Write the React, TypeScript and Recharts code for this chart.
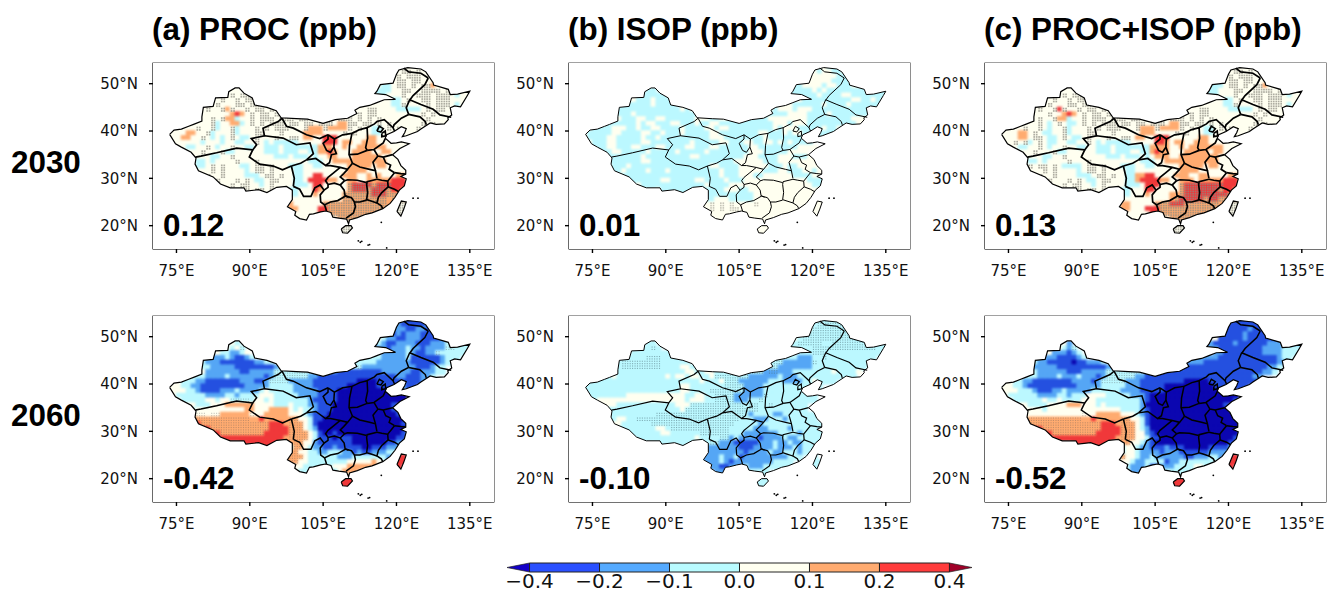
import { ScatterChart, Scatter, XAxis, YAxis, ReferenceArea, BarChart, Bar } from "recharts"

// grid cells: col 0 = 73.5E, row 0 = 53.5N, 1 degree. "_" = 10 empty cols, "." = empty
// a <-0.4  b -0.4..-0.2  c -0.2..-0.1  d -0.1..0  e 0..0.1  f 0.1..0.2  g 0.2..0.4  h >0.4, upper case = stippled
const PROC_2030 = [
  "_ _ _ _ ........ee eeee",
  "_ _ _ _ .......eEE eEee",
  "_ _ _ _ ......eEeE EEeee",
  "_ _ _ _ ......eEEe EEeeef",
  "_ _ _ _ ...eddeEEe EeEEfe",
  "_ ...ee..... _ _ ..ddddeeEE eeEEEEeEee eee",
  "_ ..eEeEEe.. _ _ ..dddeeeEe eEEEeEEEed ee",
  "_ eEeeEeEEe. _ _ ....eeddeE eeEEeEEEee e",
  "........Ee EeeeEEeEE. _ .........e eeeeeeddEe eeeEeEEEed e",
  ".......eEe eEfEeeEeEE eEe....... ........ee eEEeeeeddd ddeEeEEeee",
  ".......eee eeefgfeEeE EeEe...... ......eEeE eEEeeeeeee eeEeEeeee",
  ".......eeE eEffdeeEeE EEeEEEeEEe EeEEeEEEeE eEeEeeeeee eeeEeeeee",
  "....eeeeeE deeffdeEeE eEEEeEEeEE eEEEeffEEe EEeEeEeeee eeEeEeee",
  ".eeeeeEeeE deeEdeeeEe EeEEEeeeEf ffEffffEeE eeddeEeEee eEee",
  "eeeeffeeEd eeeEdeeeEE eeeEeeeeff ffeeeeEeEe eeddeeEeee eee",
  "eeeffeeEed edeEeddeEe eeEeeEEeff eegggeeeee effeeeeeee",
  ".eeeeeedee edeeddeeEe dedddddeee eegggeffee fffeeeeee",
  "..eeddeeEe deeEeeddee dddedddddd dfffeefeef fffffeeeee",
  "....eeeEee eEddeeeeee dddedddeed dffgfeeeff ffeeffee",
  ".....eeeed deeEeeeeee eedddeddde deeffeeeff ffffeeee",
  ".....edded eeeeEeeeEe eeeeeeeeed ddeeffffff fffffeee",
  ".....eddeE eEeeeddeEE eEeeedddee ddeeeeefff ffeffeeee",
  ".....eeeeE eEeeeedeEE eEeeeeddee eeeeeeefff feeeeeeeee",
  ".......eEe eEeeeeddde EEeEeeddee ggeeeefffe efefeeeffe",
  "........ee EeeeEeEedd eEEeeeddeg gggffeeffe efffffggge",
  "_ .eeEeEEeed eEeeeeddde ggeeeeeFGG GGFGGGgggg",
  "_ .....eEeEE eEeEeddeee gfeeeeeFGG GFGGGFggfe",
  "_ .........e eEEeeddeee feeeeeFFFF FFGGGFFFf",
  "_ _ ....eeeeee eeeeeeFFFF FFFFFfFFf",
  "_ _ ....efeeee eeFFFFFFFF FFFFFf.EE",
  "_ _ .....ffeee eggFFFFFFF FFFFf..EE",
  "_ _ ......eeee eggFFFFFFF FFFe...E",
  "_ _ .......eee eeeeeFFFF",
  "_ _ _ ......ee",
  "_ _ _ .....EEE",
  "_ _ _ .....EEE",
]

const ISOP_2030 = [
  "_ _ _ _ ........ee dddd",
  "_ _ _ _ .......ede edde",
  "_ _ _ _ ......eeee eeddd",
  "_ _ _ _ ......eeee edddde",
  "_ _ _ _ ...ddeeeed eedddee",
  "_ ...dd..... _ _ ..dddddede ddddddddee dde",
  "_ ..ddddd... _ _ ..dddddded dddeeddddd ddd",
  "_ edddeddddd _ _ ....eddddd dddddeedde d",
  "........dd ddddedddd. _ .........e eeedddddde ddddeddddd d",
  ".......ddd dddddddddd ede....... ........ed eeedeeeddd dddddddddd",
  ".......ddd eddddddddd dddd...... ......eedd ddeeeedddd edddddddd",
  ".......edd deeddeeddd dddeeeddee ddddddddee eeeeeedddd dddddeee",
  "....eddddd dedeedddee dddeddeedd ddddddddde eedeeedddd dddddde",
  ".eddddeeed deddeedddd eddddeedee ddddddddde deeeddddde dde",
  "edddddeedd ddeeddeddd edddddeedd ddddddeedd dedeeddddd dd",
  "eddddeeddd ddeddedddd ddddddeeed dddddddedd ddddddddd",
  ".edddeeddd ddeedddddd ddedddddee dddeeddeed ededddd",
  "..dddeeddd eedddeeddd deedddeedd ddddeedddd ddddeeee",
  "....ddeedd dddeddddde dddddedddd ddddeeeddd ddeeee",
  ".....ddddd ddeddddddd ddeedddddd dddeeedddd eeedddee",
  ".....ddddd ddeedddddd dddddddddd deeeeeeddd eeeeeeee",
  ".....eddde dddddddddd ddddddeedd ddeeeeeedd deddeeeee",
  ".....edded dddedddedd dddddddded ddeeeeeddd eedddeedee",
  ".......edd dddddddddd ddddddddedd deeeddeeee eeddddeeee",
  "........ed ddddddeedd dddeedddde dddeeeeeee eeeeeedddd",
  "_ .edddddddd dddddedddd eeeeeeeeee eeeeeeeddd",
  "_ .....edddd dddddddddee eddeeeeeee eeeeeeeeee",
  "_ .........d dddddddddd dddddeeeee eeeeeeeee",
  "_ _ ....dddeee dddddeeeee eeeeeeeee",
  "_ _ ....eeEeEe EeeeeEeeee eeeeee.ee",
  "_ _ .....eEeEe EEeeeeeeee eeee...ee",
  "_ _ ......eeee eeeeeeeeee eee....e",
  "_ _ .......eee eeeeeeeee",
  "_ _ _ ......ee",
  "_ _ _ .....eee",
  "_ _ _ .....eee",
]

const BOTH_2030 = [
  "_ _ _ _ ........ee eeee",
  "_ _ _ _ .......eEE eEee",
  "_ _ _ _ ......eEeE EEeee",
  "_ _ _ _ ......eEEe EEeeef",
  "_ _ _ _ ...dddeEEe EeEEfe",
  "_ ...ee..... _ _ ..dddeeeEE eeEEEEeEee eee",
  "_ ..eEeEEe.. _ _ ..dddeeeEe eEEEeEEEed ee",
  "_ eEeeEeEEe. _ _ ....eeddeE eeEEeEEEee e",
  "........Ee EeeeEEeEE. _ .........e eeeeeeddEe eeeEeEEEed e",
  ".......eEe eEgEeeEeEE eEe....... ........ee eEEeeeeddd ddeEeEEeee",
  ".......eee EeefgfeEeE EeEe...... ......eEeE eEEeeeeeee eeEeEeeee",
  ".......eEe eEffdeeEeE EEeEEEeEEe EeEEeEEEeE eEeEeeeeee eeeEeeeee",
  "....eeeeEe deEeddeEeE eEEEeEEeEE eEEEeffEEe EEeEeEeeee eeEeEeee",
  ".eeeeEeeEe deeEdeeeEe EeEEEeeeEf ffEffffEeE eeddeEeEee eEee",
  "eeeeffeEed deeEdeeeEE eeeEeeeeef ffeeeeEeEe eeddeeEeee eee",
  "eeeeffeEEe ddeEeddeEe eeEeeEEeff eegggeeeee effeeeeeee",
  ".eeEeEdeEe ddeeddeeEe dedddddeee eeggfeffee fffeeeeee",
  "..eeddeeEe deeEeeddee dddedddddd dffffeefef ffffffeeee",
  "....eeeEee eEddeeeeee dddedddeed dfgffeeeff fffeffee",
  ".....eeeed deeEeeeeee eedddeddde defffeefff fffffeee",
  ".....edded eeeeEeeeEe eeeeeeeeed ddeeffffff fffffeee",
  ".....eEeEE eEeddddeEE eEeeedddee ddeeeeefff ffeffeee",
  ".....eeeeE eEeeeedeEE eEeeeeddee eeeeeeefff feeeeeeeee",
  ".......eEe eEeeeeddde EEeEeeddff ggeeeefffe effeeeefff",
  "........ee EeeeEeEedd eEEeeeddfg gggffeefff efffffgggf",
  "_ .eeEeEEeed eEeeeeddde gggeeeeFGG GGGGGGggge",
  "_ .....eEeEE eEeEeddeee ggeeeeeFGG GGGGGFggfe",
  "_ .........e eEEeeddeee feeeeffFGG GGGGGGGFf",
  "_ _ ....eeeeee eeeeefFGGG GGFGGFFFf",
  "_ _ ....effeee eeFFFGGGFF FFFFFf.EE",
  "_ _ .....ffeee gggFFFFFFF FFFFf..EE",
  "_ _ ......eeee eggFFFFFFF FFFe...E",
  "_ _ .......eee eeeeeFFFF",
  "_ _ _ ......ee",
  "_ _ _ .....EEE",
  "_ _ _ .....EEE",
]

const PROC_2060 = [
  "_ _ _ _ ........cb bbbb",
  "_ _ _ _ .......cbb bbbc",
  "_ _ _ _ ......cccb bccbb",
  "_ _ _ _ ......bcbc ccbbbb",
  "_ _ _ _ ...edccbbc ccbbbbcd",
  "_ ...ed..... _ _ ..cdcbbccc cbbbcccddD Ddd",
  "_ ..edeD.... _ _ ..cccbcccd ccbccccDDd dd",
  "_ eddccde... _ _ ....cccccd cbbccDdddd d",
  "........dc ccdcbbcd.. _ .........d ddddcccccd bbbbbbcddd",
  ".......dcc cbbbbbbbcc dd........ ........dd dddccccccc bbbbbbcdd",
  ".......ddc ccccbbbbbb bbcd...... ......dddD cccccccccc cbbbcdd",
  ".......ecc cccccbbccc ccDDDDDDDD cccccbbbbb bbbbcccccc bbcccdd",
  "....edddcc ccdccccccc bcDDDDDDDc cbbbbbbbbb bbbbbbbccb bbccd",
  ".eedddccbb bbbbbcccbb cDDDDccccc bbbbbbbbba aaabbbbbbb bbc",
  "eeeddccbbb bbbbbbcccc cdddddcccc bbbbbbbaaa aaabbbbbcb b",
  "eeeeddcbbb bcccdccccd edddddcccc cbbbbaaaaa aaaaaa",
  ".eddddddcc ccddcdddde eedddddccc cbbbbaaaaa aaaaaaaaa",
  "..edddddee deeDDDDdee dedddddddc bbbbbaaaaa aaaaaaaaa",
  "....eeddde eeffffffee eedddedddc cbbbaaaaaa aaaaaab",
  ".....deeee eeeeeeffee effffededd cbbbaaaaaa aaaaaabb",
  ".....eEEeE EffffffEee fffffeeedc bbbaaaaaaa aaaaaaab",
  ".....fFFFF FFFFFFFffg fffffFFeed bbaaaaaaaa aaaaaaaaab",
  ".....ggFFF FFFFFFFFFF FgggfFFFed baaaaaaaaa aaaaaaaabb",
  ".......ggF FFFFFFFFFF FggggFFFed caaaaaaaaa aaaaaaaaab",
  "........gg gFFFFFFFFF gggggFFFFe dbaabaaaaa aaaaaaaabc",
  "_ .ggggggggg ggggfFFFFe dbbbabbbaa aaaaaaabbc",
  "_ .....ggggg gggfffFFee cbbbbbbbaa aaaaabbcc",
  "_ .........f ggffddFFed ccbbcbbbbb aabbbcccd",
  "_ _ ....FFFeed dccdddccbc bbcccddd",
  "_ _ ....FFFFed dddddcccdd dddddc.gg",
  "_ _ .....FFeed dddddddeee eefe...gg",
  "_ _ ......eedd ddddeeefff fff....g",
  "_ _ .......ddd dddddefff",
  "_ _ _ ......ee",
  "_ _ _ .....ggg",
  "_ _ _ .....ggg",
]

const ISOP_2060 = [
  "_ _ _ _ ........DD DDDD",
  "_ _ _ _ .......dDD DDDD",
  "_ _ _ _ ......eDDD DDDDd",
  "_ _ _ _ ......DDDD DDDDDd",
  "_ _ _ _ ...edDDDDD DDDDDDDd",
  "_ ...dd..... _ _ ..ddDDDDDd dDDDDDDDDD DDd",
  "_ ..ddDd.... _ _ ..dddddDDD DDDDDDDDDD dd",
  "_ dddddddd.. _ _ ....dddDDD dddddddddd d",
  "........dd dddDDDdddd _ .........d ddddcccddD dddddddddd",
  ".......dDD DDDDDDdddd dd........ ........dD DccccccDdd ddddddddd",
  ".......dDD DDDDDDdddd eedd...... ......dDDD cccccccddd dddddddd",
  ".......ddd dddddddddd deeddeeddd DDDDDDDcCC cccddddddd dedddde",
  "....ddeddd dddddddede edeeddeDDD DDDDcccccc dcccdddddd dddddd",
  ".ddddddddd dddddddddd ddddedddeD DDccccccdd dccccddedd dd",
  "dddddddddd dddddddddd eedddddddD DDDccccddd ddddddddd",
  "dddddddddd dddddddddd eeddddDDDD DDDccccddd dddddd",
  ".dddddddde eeeeeeeeee eddeeddDDD DccccccDdd dddddddd",
  "..deeeeeee eeeeeeeeee edeeeddDDD DcccddDddd dddddddd",
  "....eeeddd ddddddddde eeDDDDDDDD DDDdDDddDd dddddd",
  ".....ddddd dddddddddd eDDDDDDDDD DDDDDDdddd dddddd",
  ".....ddddd dddddDDDDD DDDDDDDDDD DDDdcddddc cddddddd",
  ".....ddeed dDDDDDDDDD DDDDDDDDDD DDdddcccdd dcdddddd",
  ".....deedd ddddDDDDDD DDDDDDDDDD Ddddddcddd dddddddddd",
  ".......ddd dddddeedDD DDDDDDDDDD dddddcccdd ddcddddddd",
  "........dd ddddddeedd ddddDDDDDD dddccccccc ddddcddddd",
  "_ .ddddddddd dddeddddDD cdccccbccc cdccdddddd",
  "_ .....ddddd ddddddDDcc cbbbbbcccd ccdccdddd",
  "_ .........d dddddccccc ccbbbccccd cccdcddd",
  "_ _ ....cccccc cccbccccdc cdddcddd",
  "_ _ ....ccccdc cdbccccccc ccddd.dd",
  "_ _ .....cccdc bccccccccd ddd....dd",
  "_ _ ......ccbb cccdcccddd ddd....d",
  "_ _ .......ccb dddddddd",
  "_ _ _ ......dd",
  "_ _ _ .....ddd",
  "_ _ _ .....ddd",
]

const BOTH_2060 = [
  "_ _ _ _ ........bb bbbb",
  "_ _ _ _ .......bbb bbbb",
  "_ _ _ _ ......bbbb bcbbb",
  "_ _ _ _ ......bbbb cbbbbb",
  "_ _ _ _ ...eebbbbb cbbbbbbc",
  "_ ...ec..... _ _ ..ccbbbbcb bbbbbcccdc ccd",
  "_ ..edcD.... _ _ ..cccbbbbb bbbbccccdd dd",
  "_ ecccbcd... _ _ ....ccbbbb bbbbccccdd d",
  "........dc ccbbbbcd.. _ .........c cccccbbbbb bbbbbbbcdd",
  ".......dcc bbbbbabbcc cd........ ........cc ccbbbbbbbb bbbbbbbcc",
  ".......ccc ccbbbbbbbb bbcc...... ......ccbb bbbbbbbbbb bbbbbccd",
  ".......dcc ccccbbbccc ccDDDDDDDD bbbbbbbbbb bbbbbbbbbb bbbbccd",
  "....edddcc ccdcccdccc bcDDDDDDcc bbbbbbbbbb bbbbbbbbbb bbcc",
  ".eeddccbbb bbbbbccccb cDDDDDcccb bbbbbbbbaa aaabbbbbbb bbb",
  "eeeddcbbbb bbbbbbcccc cdddddcccb bbbbaaaaaa aaaabbbbbb b",
  "eeeedddcbb bccdcccccd dddddccccb bbbbaaaaaa aaaaaa",
  ".eddddddcc ccddcdddee eedddddccc baaaaaaaaa aaaaaaaaa",
  "..edddddde ddeddddeee dddddddddc baaaaaaaaa aaaaaaaab",
  "....eedddd eeeefffeee dedddddddc aaaaaaaaaa aaaaaab",
  ".....eeeed eeeeeeeeee eeeeeddddc baaaaaaaaa aaaaaaaa",
  ".....eeeee eeeeeeeEee fffffeeedc baaaaaaaaa aaaaaaaa",
  ".....eFFFF FFFFFFFffg fffffFFeed baaaaaaaaa aaaaaaaaaa",
  ".....eFFFF FFFFFFFFFF FgggfFFFed baaaaaaaaa aaaaaaaaaa",
  ".......ggF FFFFFFFFFF FggggFFFed caaaaaaaaa aaaaaaaaaa",
  "........gg gFFFFFFFFF gggggFFFee cbaaaaaaaa aaaaaaaaab",
  "_ .ggggggggg ggggfFFFee dbbaaaaaaa aaaaaaaabc",
  "_ .....ggggg gggfffFeed cbaaaaaaaa aaaaaaabb",
  "_ .........f ggffddeedc cbbbcbbbaa aaabbbbcc",
  "_ _ ....ddeedc cccbcccbbb bbbccccc",
  "_ _ ....dFeedc cdccccccbb cccddc.gg",
  "_ _ .....eedcc ddddbccddd dddd...gg",
  "_ _ ......dccc dbbcccdddd eed....g",
  "_ _ .......ccc cbcdddddd",
  "_ _ _ ......dd",
  "_ _ _ .....ggg",
  "_ _ _ .....ggg",
]

// lon, lat
const OUTLINE = [
  [73.6,39.3],[74.5,40.2],[76,40.4],[77.5,41],[78.5,41.4],[80.2,42.1],[80.2,43],[80.5,45],[82.5,45.2],[83,47],[85.5,47.1],
  [85.7,48.3],[87,49.1],[87.8,49.1],[88.8,48],[90.5,47],[91,45.5],[93.5,45],[95.4,44.3],[96.4,42.8],[99.5,42.6],[101.8,42.5],
  [105,41.6],[107.5,42.4],[110,42.7],[111.9,43.7],[111.5,44.4],[112.5,45],[114.5,45.4],[116,46],[117.5,46.6],[119.8,46.7],
  [117.8,47.7],[115.6,47.9],[116,48.4],[116.7,49.8],[119.3,50.1],[120,52],[120.5,52.9],[122.3,53.4],[125,53.1],[126,52.5],
  [127.5,50.2],[127.6,49.7],[130.6,48.8],[131,47.7],[132.5,47.8],[135,48.4],[134.5,47.5],[133.1,45.1],[131.9,45.3],[131,44.9],
  [131.3,43.4],[130.5,42.8],[130.6,42.4],[129.8,41.5],[128.1,41.4],[126.9,41.7],[125,40.4],[124.3,39.9],[122,39],[121.2,38.8],
  [121.7,39.7],[122,40.5],[121,40.9],[119.5,39.9],[118,39.2],[117.7,38.5],[118.9,37.4],[120,37.5],[121,37.7],[122.6,37.3],
  [120.7,36.3],[119.2,35],[120.3,34],[120.9,32.7],[121.9,31.7],[121.9,30.9],[120.9,30.4],[122,29.9],[121.6,28.4],[120.6,27.5],
  [119.7,26],[118.7,24.7],[117.2,23.6],[115,22.7],[113.7,22.4],[112,21.7],[110.4,21.2],[110.2,20.4],[109.8,21.4],[108.2,21.6],
  [107,21.8],[106.6,22.8],[105.5,23.1],[104.5,22.9],[103,22.5],[102.2,22.4],[101.6,21.2],[100.2,21.5],[99.2,22.2],[99.4,23],
  [97.7,24],[98.7,25.5],[98.7,27.5],[97.5,28.3],[95.5,28.1],[93.5,27],[91.8,27.6],[89.2,27.3],[88.8,28],[86,28],[84,28.8],
  [82.5,30.3],[79.5,31.6],[78.8,33],[79,34.3],[78,35.5],[76,36.6],[74.8,37.3],[73.6,39.3],
]
const HAINAN = [[108.7,19.3],[109.6,20],[110.7,20],[111,19.5],[110,18.4],[109,18.5],[108.7,19.3]]
const TAIWAN = [[120.1,23],[121,25.2],[122,25],[121.5,23.5],[120.9,22],[120.1,23]]

const PROVINCE_LINES = [
  [[78.9,34.5],[80,34.7],[83.2,35.4],[87.3,36.4],[90.6,36],[91.4,37.1],[90.3,38.4],[93,39],[92.7,40.6],[95.8,42],[96.6,42.7]],
  [[90.6,36],[89.9,34.5],[92,33],[94.8,32.6],[96.7,31.8],[98.5,32.6]],
  [[98.5,32.6],[99.1,30],[98.9,28.3]],
  [[93,39],[96.8,38.5],[99.5,37.1],[102.3,37.5],[103,35.2],[101.6,33.9]],
  [[98.5,32.6],[100.4,33.2],[101.6,33.9]],
  [[96.6,42.7],[97.5,41],[98.9,40.6],[101.6,39.2],[104.3,38.4],[106,39.2]],
  [[106,39.2],[107.3,38.3],[107.2,36.6],[106.5,35.5],[105.7,35.9],[105,37.4],[106,38.3],[106,39.2]],
  [[101.6,33.9],[103.5,34.2],[105.5,32.7],[106.3,33.3],[106.7,35],[107.7,35.2],[107.2,36.6]],
  [[107.3,38.3],[109,39.2],[110.9,39.5]],
  [[110.9,39.5],[110.4,37],[110.3,35],[111,33.2]],
  [[111,33.2],[110,31.9],[108.5,32.3],[106.5,32.7],[105.5,32.7]],
  [[110.9,39.5],[112.5,40.3],[114,40.7],[114.1,38.5],[113.7,36.5],[114,35.9]],
  [[110.3,35],[112,35.1],[114,35.9]],
  [[114,40.7],[115.5,41.5],[116,42],[117.5,42.4],[119.3,40.7],[119.6,40]],
  [[116,40],[116.5,41],[117.3,40.5],[116.8,39.8],[116,40]],
  [[117,39.5],[117.7,40],[117.8,39],[117,38.8],[117,39.5]],
  [[114,35.9],[115.4,36.1],[117.3,37.5],[117.7,38.4]],
  [[115.4,36.1],[116.2,34.7],[117.3,34.5],[119.2,35]],
  [[111,33.2],[112.5,32.4],[114.5,31.9],[115.7,31.6],[116,30]],
  [[116.2,34.7],[115.2,33.4],[115.7,31.6]],
  [[117.3,34.5],[117.8,33.3],[118.8,32.8],[118.5,31.9],[119.6,31.2]],
  [[119.6,31.2],[120.9,31],[121.9,30.9]],
  [[119.6,31.2],[118.9,30.3],[118.2,29.4],[117,29.6],[116,29.8]],
  [[118.2,29.4],[118.3,28.2],[119.6,27.7],[120.4,27.2]],
  [[118.3,28.2],[117,27],[116.3,26],[116,24.8],[116.9,24.2],[117.2,23.6]],
  [[116,29.8],[114,29.3],[113.9,28.7],[114.1,27],[113.9,25.5],[114.8,25.2],[116,24.8]],
  [[113.9,29.1],[112,29.6],[110,29.7],[109.4,29.5]],
  [[110,31.9],[109.2,31],[108.5,30.3],[109.4,29.5]],
  [[108.5,32.3],[107.2,31.2],[106,30.2],[105.5,29.5],[106,28.7]],
  [[106,28.7],[107.3,29],[108.5,28.6],[109.4,29.5]],
  [[108.5,28.6],[109.3,27.5],[109.5,26.3],[110.2,26]],
  [[109.5,26.3],[110.8,25.9],[111.4,25],[112.5,25],[113.9,25.4]],
  [[111.4,25],[111.6,24],[111.2,22.7],[109.7,21.6]],
  [[109.5,26.2],[108,25.3],[106.5,25],[105.3,24.4],[105.7,23.1]],
  [[105.3,24.4],[104.5,25],[104.4,26.5],[105.2,27.5],[106,28.1],[106,28.7]],
  [[98.9,28.3],[100.2,27.7],[101,26.2],[102.5,26.2],[103.3,28],[104.4,28.6],[105.2,27.5]],
  [[121.5,53.3],[122.5,52.5],[125,52.2],[126.5,51.2]],
  [[126.5,51.2],[125.8,49.8],[123.4,47.5],[122.7,46.5]],
  [[122.7,46.6],[125,45.6],[127.5,44.6],[128.9,43.4],[131.2,42.9]],
  [[122.7,46.6],[122,44.9],[122.5,43.5]],
  [[122.5,43.5],[124.8,43],[125.9,42],[126.1,41.3]],
  [[122.5,43.5],[121,42.7],[119.5,41.3],[119.3,40.7]],
]
const ISLANDS = [[112.2,16.8],[112.6,16.5],[112.9,16.7],[114.2,15.9],[114.5,16],[116.9,20.7],[123.4,25.8],[124.4,25.8],[118,15.3]]

const LON_TICKS = [75, 90, 105, 120, 135]
const LAT_TICKS = [20, 30, 40, 50]
const TITLES = ["(a) PROC (ppb)", "(b) ISOP (ppb)", "(c) PROC+ISOP (ppb)"]
const YEARS = ["2030", "2060"]
const MEANS = ["0.12", "0.01", "0.13", "-0.42", "-0.10", "-0.52"]
const FIELDS = [PROC_2030, ISOP_2030, BOTH_2030, PROC_2060, ISOP_2060, BOTH_2060]
const BAR_LABELS = ["\u22120.4", "\u22120.2", "\u22120.1", "0.0", "0.1", "0.2", "0.4"]
const BAR_TICKS = [0, 1, 2, 3, 4, 5, 6]
const BAR_ROW = [{ low: -0.322, s0: 1, s1: 1, s2: 1, s3: 1, s4: 1, s5: 1, high: 0.322 }]

const LEVELS: Record<string, string> = {
  a: "#0b06b0", b: "#2450e0", c: "#55a6f5", d: "#bbf8ff", e: "#fffff0", f: "#ffab70", g: "#f0383a", h: "#a00028",
}
const BAR_COLORS = ["#2a50ff", "#55aaff", "#b9fbff", "#fffff0", "#ffab70", "#ff3c3c"]

const PANEL_X = [153, 569, 985]
const PANEL_Y = [63, 316]
const PLOT_W = 341
const PLOT_H = 186
const AXIS_W = 60
const TOP = 10
const X_DOMAIN = [70.2, 139.95]
const Y_DOMAIN = [15.07, 54.37]

const STIPPLE = [
  { size: 1.7, fill: "#8c8a80", opacity: 0.7 },
  { size: 1.6, fill: "#8c8a80", opacity: 0.5 },
  { size: 1.7, fill: "#8c8a80", opacity: 0.7 },
  { size: 1.1, fill: "#555", opacity: 0.35 },
  { size: 1.1, fill: "#4c7078", opacity: 0.55 },
  { size: 1.1, fill: "#555", opacity: 0.35 },
]
const STROKES = [
  { outer: 1.2, inner: 1.7 },
  { outer: 1, inner: 1 },
  { outer: 1.2, inner: 1.7 },
  { outer: 1.2, inner: 1.5 },
  { outer: 1, inner: 1.2 },
  { outer: 1.2, inner: 1.5 },
]

const toPoints = (line: number[][]) => line.map(([lon, lat]) => ({ lon, lat }))

function toCells(rows: string[]) {
  const cells: { lon: number; lat: number; level: string }[] = []
  rows.forEach((row, r) => {
    const text = row.replace(/_/g, "..........").replace(/ /g, "")
    text.split("").forEach((ch, c) => {
      if (ch !== ".") cells.push({ lon: 73.5 + c, lat: 53.5 - r, level: ch })
    })
  })
  return cells
}

const Nothing = () => <g />

const CellShape = (props: any) => (
  <rect
    x={props.cx - 3}
    y={props.cy - 3}
    width={6}
    height={6}
    fill={LEVELS[props.payload.level.toLowerCase()]}
  />
)

const stippleShape = (style: { size: number; fill: string; opacity: number }) => (props: any) => (
  <g fill={style.fill} fillOpacity={style.opacity}>
    <rect x={props.cx - 2} y={props.cy - 2} width={style.size} height={style.size} />
    <rect x={props.cx + 0.5} y={props.cy - 2} width={style.size} height={style.size} />
    <rect x={props.cx - 2} y={props.cy + 0.4} width={style.size} height={style.size} />
    <rect x={props.cx + 0.5} y={props.cy + 0.4} width={style.size} height={style.size} />
  </g>
)

// white sheet with China and the islands cut out, so the blocky cells end at the border
const landMask = (props: any) => {
  const pts = props.points as { x: number; y: number }[]
  const ring = (from: number, to: number) =>
    pts.slice(from, to).map((p, i) => `${i ? "L" : "M"}${p.x} ${p.y}`).join("") + "Z"
  const a = OUTLINE.length
  const b = a + HAINAN.length
  const d = `M${AXIS_W} ${TOP}h${PLOT_W}v${PLOT_H}h${-PLOT_W}Z` + ring(0, a) + ring(a, b) + ring(b, pts.length)
  return <path d={d} fill="#fff" fillRule="evenodd" stroke="none" />
}

const IslandDot = (props: any) => <circle cx={props.cx} cy={props.cy} r={0.9} fill="#000" />

function Panel({ index }: { index: number }) {
  const cells = toCells(FIELDS[index])
  const dotted = cells.filter((c) => c.level !== c.level.toLowerCase())
  const stroke = STROKES[index]
  const col = index % 3
  const row = Math.floor(index / 3)
  return (
    <div style={{ position: "absolute", left: PANEL_X[col] - AXIS_W, top: PANEL_Y[row] - TOP }}>
      <ScatterChart
        width={AXIS_W + PLOT_W + 14}
        height={TOP + PLOT_H + 40}
        margin={{ top: TOP, right: 14, bottom: 0, left: 0 }}
      >
        <XAxis
          type="number"
          dataKey="lon"
          domain={X_DOMAIN}
          ticks={LON_TICKS}
          allowDataOverflow
          height={40}
          tickSize={4}
          tickMargin={12}
          tickFormatter={(v) => `${v}°E`}
          tick={{ fontSize: 15, fontFamily: "DejaVu Sans", fill: "#111" }}
          stroke="#444"
          tickLine={{ stroke: "#000", strokeWidth: 1.4 }}
        />
        <YAxis
          type="number"
          dataKey="lat"
          domain={Y_DOMAIN}
          ticks={LAT_TICKS}
          allowDataOverflow
          width={AXIS_W}
          tickSize={4}
          tickMargin={11}
          tickFormatter={(v) => `${v}°N`}
          tick={{ fontSize: 15, fontFamily: "DejaVu Sans", fill: "#111" }}
          stroke="#444"
          tickLine={{ stroke: "#000", strokeWidth: 1.4 }}
        />
        <Scatter className="field" data={cells} shape={CellShape} isAnimationActive={false} />
        <Scatter data={dotted} shape={stippleShape(STIPPLE[index])} isAnimationActive={false} />
        <Scatter
          data={toPoints([...OUTLINE, ...HAINAN, ...TAIWAN])}
          line={landMask}
          shape={Nothing}
          isAnimationActive={false}
        />
        {[OUTLINE, HAINAN, TAIWAN].map((line, i) => (
          <Scatter
            key={`ring-${i}`}
            data={toPoints(line)}
            line={{ stroke: "#000", strokeWidth: stroke.outer }}
            shape={Nothing}
            isAnimationActive={false}
          />
        ))}
        {PROVINCE_LINES.map((line, i) => (
          <Scatter
            key={`prov-${i}`}
            data={toPoints(line)}
            line={{ stroke: "#000", strokeWidth: stroke.inner }}
            shape={Nothing}
            isAnimationActive={false}
          />
        ))}
        <Scatter data={toPoints(ISLANDS)} shape={IslandDot} isAnimationActive={false} />
        <ReferenceArea
          x1={X_DOMAIN[0]}
          x2={X_DOMAIN[1]}
          y1={Y_DOMAIN[0]}
          y2={Y_DOMAIN[1]}
          fill="none"
          stroke="#444"
          strokeWidth={1.2}
        />
      </ScatterChart>
    </div>
  )
}

const BOLD = { position: "absolute", fontFamily: "Liberation Sans", fontWeight: 700, fontSize: 31.4, lineHeight: "31px", color: "#000", whiteSpace: "nowrap" } as const

const ArrowEnd = (props: any) => {
  const x = Math.min(props.x, props.x + props.width)
  const w = Math.abs(props.width)
  const left = props.width < 0 || props.value?.[1] <= 0
  const d = left
    ? `M${x} ${props.y + props.height / 2}L${x + w} ${props.y}V${props.y + props.height}Z`
    : `M${x + w} ${props.y + props.height / 2}L${x} ${props.y}V${props.y + props.height}Z`
  return <path d={d} fill={props.fill} stroke="#222" strokeWidth={0.7} />
}

function ColorBar() {
  return (
    <div style={{ position: "absolute", left: 497, top: 553 }}>
      <BarChart
        width={485}
        height={41}
        layout="vertical"
        data={BAR_ROW}
        stackOffset="sign"
        barCategoryGap={0}
        margin={{ top: 10, right: 10, bottom: 0, left: 10 }}
      >
        <XAxis
          type="number"
          domain={[-0.322, 6.322]}
          ticks={BAR_TICKS}
          interval={0}
          height={22}
          axisLine={false}
          tickLine={false}
          tickMargin={-4}
          tickFormatter={(v) => BAR_LABELS[v]}
          tick={{ fontSize: 20, fontFamily: "DejaVu Sans", fill: "#111" }}
        />
        <YAxis type="category" hide />
        <Bar dataKey="low" stackId="bar" fill="#1400c8" shape={ArrowEnd} isAnimationActive={false} />
        {BAR_COLORS.map((color, i) => (
          <Bar key={i} dataKey={`s${i}`} stackId="bar" fill={color} stroke="#222" strokeWidth={1} isAnimationActive={false} />
        ))}
        <Bar dataKey="high" stackId="bar" fill="#a00028" shape={ArrowEnd} isAnimationActive={false} />
      </BarChart>
    </div>
  )
}

export default function App() {
  return (
    <div style={{ position: "relative", width: 1327, height: 594, overflow: "hidden" }}>
      <style>{`body{margin:0} .field{filter:blur(1.3px)}`}</style>
      {TITLES.map((t, i) => (
        <div key={t} style={{ ...BOLD, left: PANEL_X[i] - 1, top: 14 }}>{t}</div>
      ))}
      {YEARS.map((y, i) => (
        <div key={y} style={{ ...BOLD, left: 11, top: PANEL_Y[i] + 84 }}>{y}</div>
      ))}
      {FIELDS.map((_, i) => (
        <Panel key={i} index={i} />
      ))}
      {MEANS.map((m, i) => (
        <div key={i} style={{ ...BOLD, left: PANEL_X[i % 3] + 10, top: PANEL_Y[Math.floor(i / 3)] + 147 }}>{m}</div>
      ))}
      <ColorBar />
    </div>
  )
}
